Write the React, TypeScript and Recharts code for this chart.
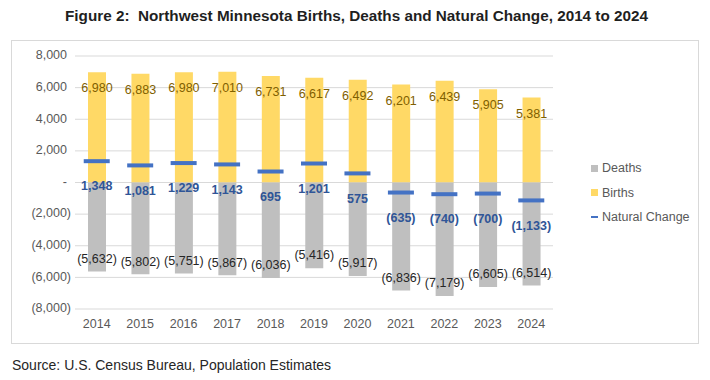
import React from "react";
import { BarChart, Bar, Line, XAxis, YAxis, CartesianGrid, LabelList } from "recharts";

const years = ["2014", "2015", "2016", "2017", "2018", "2019", "2020", "2021", "2022", "2023", "2024"];
const births = [6980, 6883, 6980, 7010, 6731, 6617, 6492, 6201, 6439, 5905, 5381];
const deaths = [-5632, -5802, -5751, -5867, -6036, -5416, -5917, -6836, -7179, -6605, -6514];
const naturalChange = [1348, 1081, 1229, 1143, 695, 1201, 575, -635, -740, -700, -1133];
const yTicks = [-8000, -6000, -4000, -2000, 0, 2000, 4000, 6000, 8000];

const data = years.map((y, i) => ({ year: y, births: births[i], deaths: deaths[i], nc: naturalChange[i] }));

const fmt = (v: number) => {
  if (v === 0) return "-";
  const s = Math.abs(v).toLocaleString("en-US");
  return v < 0 ? `(${s})` : s;
};

const FONT = "'Liberation Sans', Arial, sans-serif";

const BirthLabel = (p: any) => {
  const { x, y, width, height, value } = p;
  const top = Math.min(y, y + height);
  return (
    <text x={x + width / 2} y={top + 17} textAnchor="middle" dominantBaseline="middle" fill="#7F6000" fontSize={12.5} fontFamily={FONT}>
      {fmt(value)}
    </text>
  );
};

const DeathLabel = (p: any) => {
  const { x, y, width, height, value } = p;
  const bottom = Math.max(y, y + height);
  return (
    <text x={x + width / 2} y={bottom - 12} textAnchor="middle" dominantBaseline="middle" fill="#262626" fontSize={12.5} fontFamily={FONT}>
      {fmt(value)}
    </text>
  );
};

const NCLabel = (p: any) => {
  const { x, y, value } = p;
  return (
    <text x={x} y={y + 26} textAnchor="middle" dominantBaseline="middle" fill="#2F5597" fontSize={12.5} fontWeight="bold" fontFamily={FONT}>
      {fmt(value)}
    </text>
  );
};

const NCDot = (p: any) => {
  const { cx, cy } = p;
  if (cx == null || cy == null) return null;
  return <rect key={`d${cx}`} x={cx - 13} y={cy - 2} width={26} height={4} fill="#4472C4" />;
};

const YTick = (p: any) => {
  const { x, y, payload } = p;
  return (
    <text x={payload.value < 0 ? x + 4 : x} y={y} textAnchor="end" dominantBaseline="middle" fill="#595959" fontSize={12.5} fontFamily={FONT}>
      {fmt(payload.value)}
    </text>
  );
};

const XTick = (p: any) => {
  const { x, y, payload } = p;
  return (
    <text x={x} y={y + 8} textAnchor="middle" dominantBaseline="middle" fill="#595959" fontSize={12.5} fontFamily={FONT}>
      {payload.value}
    </text>
  );
};

export default function App() {
  return (
    <div style={{ position: "absolute", left: 0, top: 0, width: 710, height: 380, background: "#fff", fontFamily: FONT }}>
      <svg style={{ position: "absolute", left: 0, top: 0 }} width={710} height={40}>
        <text
          x={65}
          y={17}
          textLength={583}
          lengthAdjust="spacingAndGlyphs"
          dominantBaseline="middle"
          fontSize={14}
          fontWeight="bold"
          fill="#1F1F1F"
          fontFamily={FONT}
          style={{ whiteSpace: "pre" }}
        >
          {"Figure 2:  Northwest Minnesota Births, Deaths and Natural Change, 2014 to 2024"}
        </text>
      </svg>
      <div style={{ position: "absolute", left: 11, top: 40, width: 688, height: 304, border: "1px solid #D9D9D9", boxSizing: "border-box" }} />
      <div style={{ position: "absolute", left: 0, top: 0 }}>
        <BarChart
          width={710}
          height={380}
          data={data}
          stackOffset="sign"
          margin={{ top: 56, right: 157, bottom: 41, left: 15 }}
          barSize={18}
        >
          <CartesianGrid vertical={false} stroke="#D9D9D9" />
          <XAxis dataKey="year" axisLine={false} tickLine={false} tick={<XTick />} height={30} interval={0} />
          <YAxis domain={[-8000, 8000]} ticks={yTicks} axisLine={false} tickLine={false} tick={<YTick />} width={60} interval={0} />
          <Bar dataKey="births" stackId="a" fill="#FFD966" isAnimationActive={false}>
            <LabelList dataKey="births" content={<BirthLabel />} />
          </Bar>
          <Bar dataKey="deaths" stackId="a" fill="#BFBFBF" isAnimationActive={false}>
            <LabelList dataKey="deaths" content={<DeathLabel />} />
          </Bar>
          <Line dataKey="nc" stroke="none" dot={<NCDot />} activeDot={false} isAnimationActive={false}>
            <LabelList dataKey="nc" content={<NCLabel />} />
          </Line>
        </BarChart>
      </div>
      <div style={{ position: "absolute", left: 591, top: 156, fontSize: 12.5, color: "#595959", lineHeight: "24.5px" }}>
        <div style={{ display: "flex", alignItems: "center" }}>
          <span style={{ display: "inline-block", width: 7, height: 7, background: "#BFBFBF", marginRight: 4 }} />
          Deaths
        </div>
        <div style={{ display: "flex", alignItems: "center" }}>
          <span style={{ display: "inline-block", width: 7, height: 7, background: "#FFD966", marginRight: 4 }} />
          Births
        </div>
        <div style={{ display: "flex", alignItems: "center" }}>
          <span style={{ display: "inline-block", width: 7, height: 2, background: "#4472C4", marginRight: 4 }} />
          Natural Change
        </div>
      </div>
      <div style={{ position: "absolute", left: 12, top: 357, fontSize: 14, color: "#262626" }}>
        Source: U.S. Census Bureau, Population Estimates
      </div>
    </div>
  );
}
